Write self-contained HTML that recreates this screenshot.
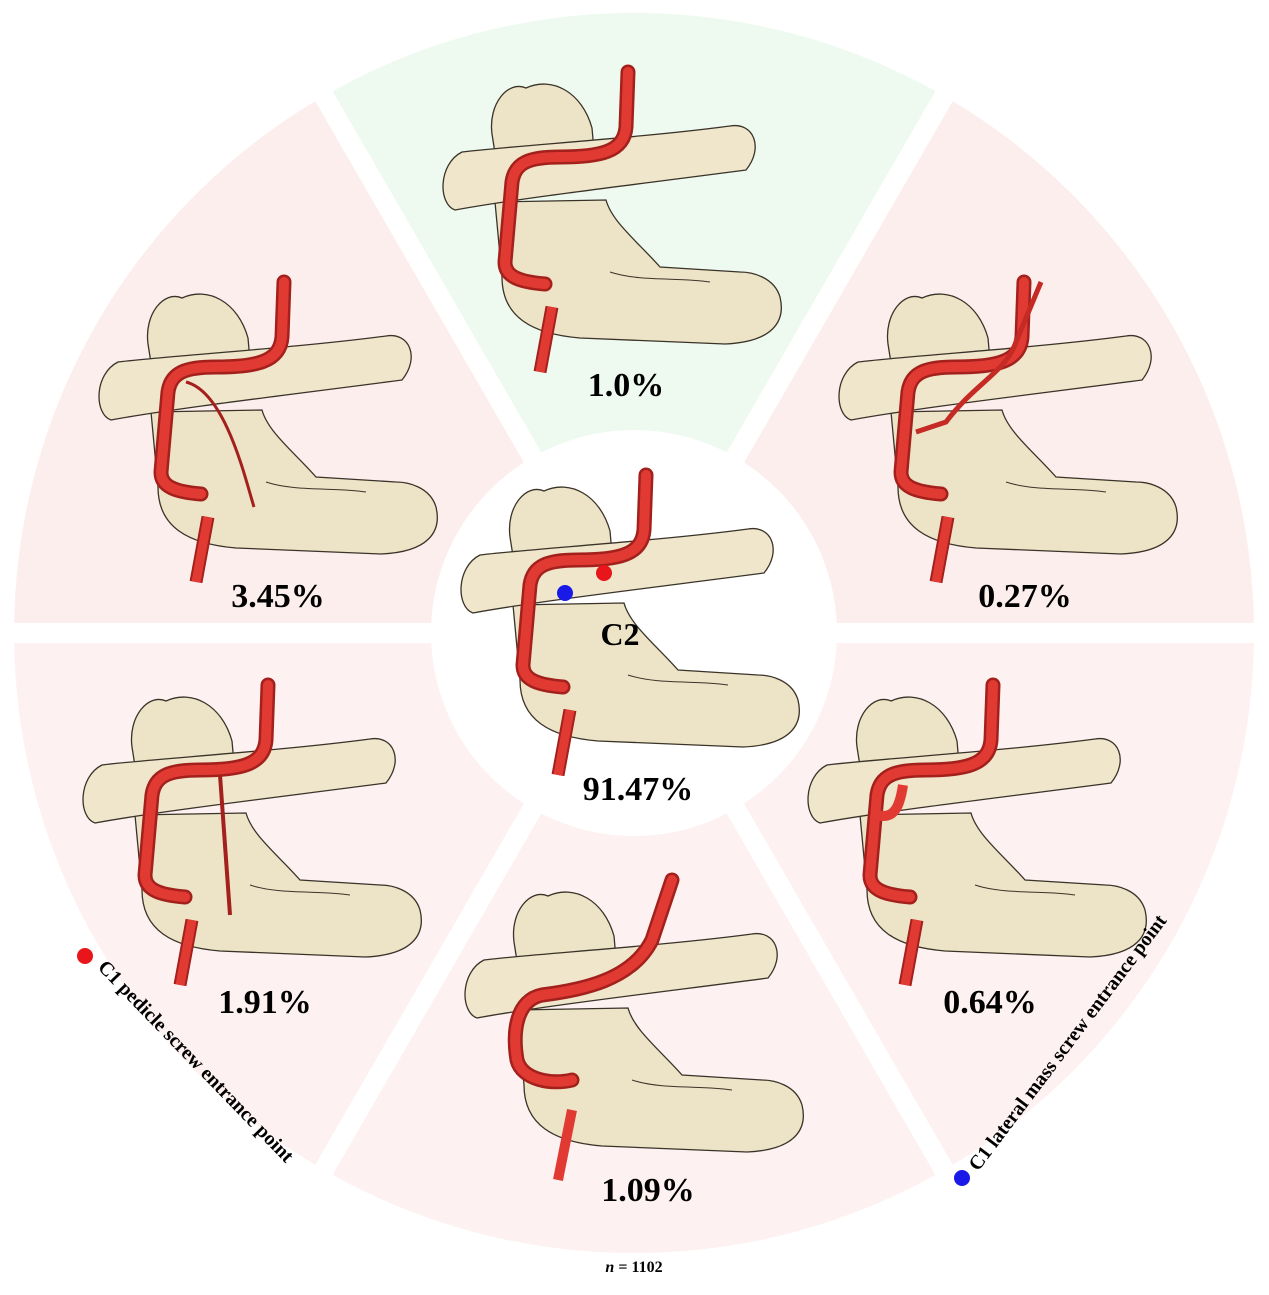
<!DOCTYPE html>
<html><head><meta charset="utf-8"><style>
html,body{margin:0;padding:0;background:#fff;}
svg{display:block;}
text{font-family:"Liberation Serif",serif;font-weight:bold;fill:#000;}
</style></head><body>
<svg width="1269" height="1295" viewBox="0 0 1269 1295" xmlns="http://www.w3.org/2000/svg">
<defs>
<g id="bone">
  <path d="M55,130 L62,205 C62,245 92,262 140,266 L285,272 C332,270 346,250 340,225 C334,205 312,200 300,200 L220,195 C198,170 172,150 166,128 Z" fill="#ede3c6" stroke="#3a3328" stroke-width="1.3"/>
  <path d="M52,62 C48,32 68,8 86,16 C112,4 142,20 152,56 L155,90 L58,100 Z" fill="#ede3c6" stroke="#3a3328" stroke-width="1.3"/>
  <path d="M22,80 C70,74 200,66 290,54 C314,50 324,76 306,98 C200,112 80,126 15,138 C-2,132 -2,92 22,80 Z" fill="#efe6cb" stroke="#3a3328" stroke-width="1.3"/>
  <path d="M170,200 C200,210 240,205 270,210" fill="none" stroke="#3a3328" stroke-width="1"/>
</g>
<g id="art">
  <path d="M188,0 L186,55 C184,80 160,85 120,85 C90,85 75,90 72,110 L65,190 C65,205 80,210 105,212" fill="none" stroke="#a3201c" stroke-width="15" stroke-linecap="round"/>
  <path d="M188,0 L186,55 C184,80 160,85 120,85 C90,85 75,90 72,110 L65,190 C65,205 80,210 105,212" fill="none" stroke="#e03a33" stroke-width="10" stroke-linecap="round"/>
  <path d="M112,235 L100,300" stroke="#a3201c" stroke-width="13"/>
  <path d="M112,235 L100,300" stroke="#e03a33" stroke-width="9"/>
</g>
</defs>
<g transform="translate(634,633)">
  <path d="M0,0 L-310,-537 A620,620 0 0 1 310,-537 Z" fill="#eefaf0"/>
  <path d="M0,0 L310,-537 A620,620 0 0 1 620,0 Z" fill="#fdeeee"/>
  <path d="M0,0 L620,0 A620,620 0 0 1 310,537 Z" fill="#fdf1f1"/>
  <path d="M0,0 L310,537 A620,620 0 0 1 -310,537 Z" fill="#fdf1f1"/>
  <path d="M0,0 L-310,537 A620,620 0 0 1 -620,0 Z" fill="#fdf1f1"/>
  <path d="M0,0 L-620,0 A620,620 0 0 1 -310,-537 Z" fill="#fdeeee"/>
  <g stroke="#fff" stroke-width="20">
    <line x1="-640" y1="0" x2="640" y2="0"/>
    <line x1="-320" y1="-554" x2="320" y2="554"/>
    <line x1="320" y1="-554" x2="-320" y2="554"/>
  </g>
  <circle r="203" fill="#fff"/>
</g>
<g transform="translate(440,72)"><use href="#bone"/><use href="#art"/></g>
<g transform="translate(96,282)"><use href="#bone"/><use href="#art"/><path d="M90,100 C130,110 150,200 158,225" fill="none" stroke="#a3201c" stroke-width="3"/></g>
<g transform="translate(836,282)"><use href="#bone"/><use href="#art"/><path d="M205,0 L180,60 C170,90 140,100 110,140 L80,150" fill="none" stroke="#c52a25" stroke-width="5"/></g>
<g transform="translate(458,475)"><use href="#bone"/><use href="#art"/></g>
<g transform="translate(80,685)"><use href="#bone"/><use href="#art"/><path d="M140,90 L150,230" stroke="#a3201c" stroke-width="4"/></g>
<g transform="translate(805,685)"><use href="#bone"/><use href="#art"/><path d="M72,130 C90,135 95,120 98,100" fill="none" stroke="#e03a33" stroke-width="10"/></g>
<g transform="translate(462,880)"><use href="#bone"/><path d="M210,0 L190,60 C170,100 120,110 80,115 C55,120 50,150 55,180 C60,200 90,205 110,200" fill="none" stroke="#a3201c" stroke-width="15" stroke-linecap="round"/><path d="M210,0 L190,60 C170,100 120,110 80,115 C55,120 50,150 55,180 C60,200 90,205 110,200" fill="none" stroke="#e03a33" stroke-width="10" stroke-linecap="round"/><path d="M110,230 L96,300" stroke="#e03a33" stroke-width="10"/></g>
<circle cx="604" cy="573" r="8" fill="#e8151a"/>
<circle cx="565" cy="593" r="8" fill="#1a1ae8"/>
<circle cx="85" cy="956" r="8" fill="#e8151a"/>
<circle cx="962" cy="1178" r="8" fill="#1a1ae8"/>
<g font-size="34" text-anchor="middle">
<text x="626" y="396">1.0%</text>
<text x="278" y="607">3.45%</text>
<text x="1025" y="607">0.27%</text>
<text x="638" y="800">91.47%</text>
<text x="265" y="1013">1.91%</text>
<text x="990" y="1013">0.64%</text>
<text x="648" y="1201">1.09%</text>
<text x="620" y="645" font-size="32">C2</text>
</g>
<text x="97" y="968" font-size="20" transform="rotate(46 97 968)">C1 pedicle screw entrance point</text>
<text x="978" y="1172" font-size="20" transform="rotate(-53 978 1172)">C1 lateral mass screw entrance point</text>
<text x="634" y="1272" font-size="16" text-anchor="middle"><tspan font-style="italic">n</tspan> = 1102</text>
</svg>
</body></html>
